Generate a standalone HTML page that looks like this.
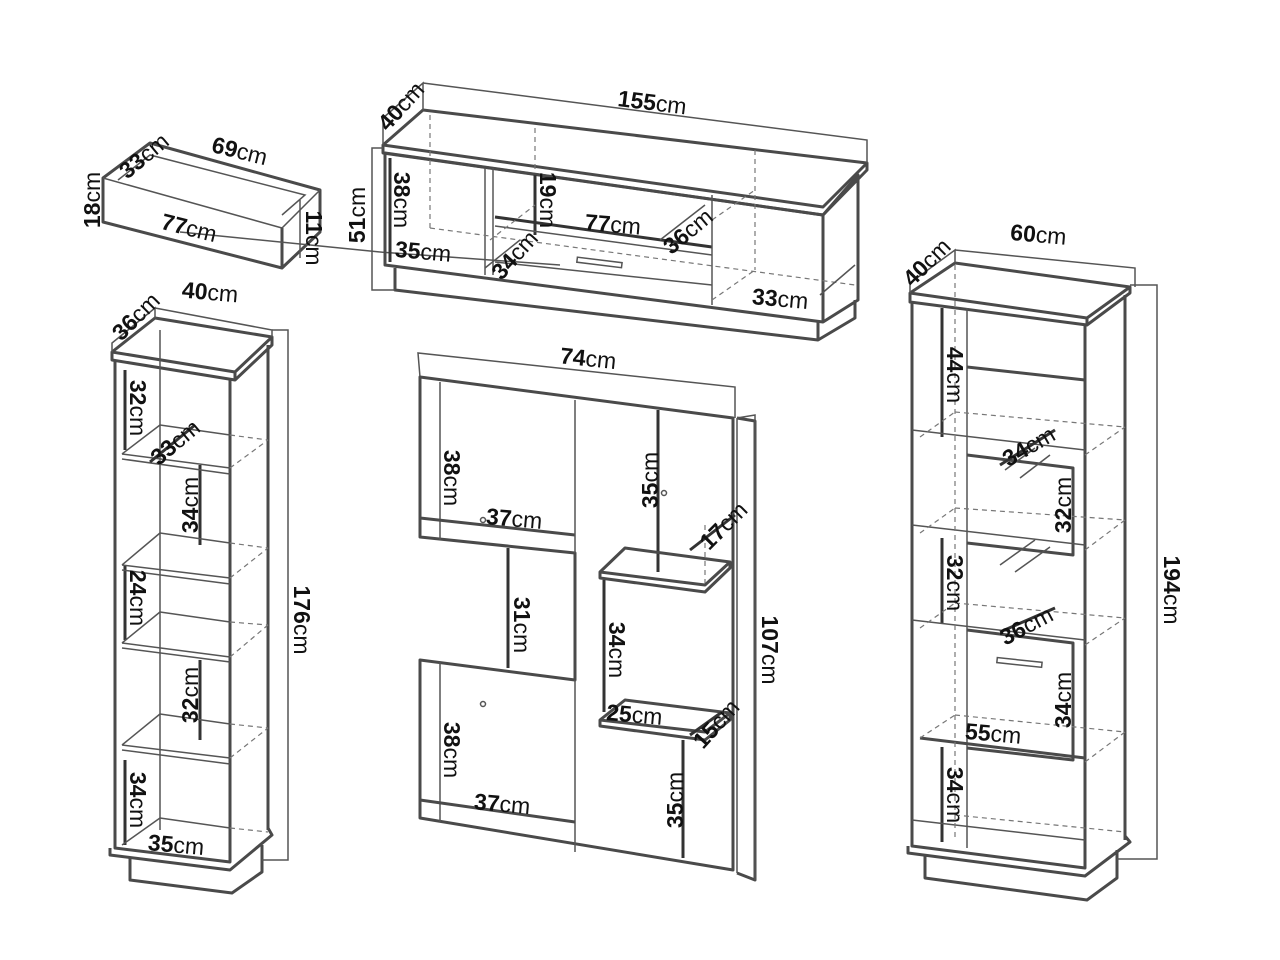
<!DOCTYPE html>
<html><head><meta charset="utf-8"><style>
html,body{margin:0;padding:0;background:#fff}
svg{display:block}
text{font-family:"Liberation Sans",sans-serif;font-size:23px;fill:#111}
.b{font-weight:bold}
.o{fill:none;stroke:#4a4a4a;stroke-width:3;stroke-linejoin:round}
.t{fill:none;stroke:#555;stroke-width:1.5}
.d{fill:none;stroke:#777;stroke-width:1.2;stroke-dasharray:5 4}
.k{fill:none;stroke:#333;stroke-width:3}
.m{fill:none;stroke:#555;stroke-width:1.5}
</style></head><body>
<svg width="1280" height="960" viewBox="0 0 1280 960" xmlns="http://www.w3.org/2000/svg">
<!-- ===== Drawer ===== -->
<polygon class="o" points="103,178 150,143 320,190 320,232 282,268 103,222"/>
<polyline class="t" points="103,178 282,228 320,190"/>
<line class="o" x1="282" y1="228" x2="282" y2="268"/>
<polyline class="t" points="118,180 150,155 305,195 282,215"/>
<line class="t" x1="300" y1="200" x2="300" y2="258"/>
<line class="m" x1="180" y1="232" x2="380" y2="252"/>
<line class="m" x1="380" y1="252" x2="560" y2="265"/>
<!-- ===== TV stand ===== -->
<polygon class="o" points="383,145 423,110 867,163 823,207"/>
<polyline class="o" points="383,145 383,153 823,215 867,170 867,163"/>
<polygon class="o" points="385,153 385,265 823,322 858,300 858,175 823,215"/>
<line class="o" x1="823" y1="215" x2="823" y2="322"/>
<polyline class="o" points="395,268 395,290 818,340 855,318 855,300"/>
<line class="o" x1="818" y1="322" x2="818" y2="340"/>
<line class="k" x1="390" y1="158" x2="390" y2="262"/>
<line class="t" x1="485" y1="168" x2="485" y2="275"/>
<line class="t" x1="493" y1="168" x2="493" y2="275"/>
<line class="k" x1="535" y1="175" x2="535" y2="235"/>
<polyline class="k" points="495,217 712,247"/>
<line class="t" x1="495" y1="226" x2="712" y2="255"/>
<line class="t" x1="712" y1="195" x2="712" y2="305"/>
<line class="t" x1="495" y1="262" x2="712" y2="285"/>
<rect x="577" y="260" width="45" height="5" class="t" transform="rotate(7 600 262)"/>
<line class="d" x1="430" y1="115" x2="430" y2="228"/>
<line class="d" x1="535" y1="128" x2="535" y2="170"/>
<line class="d" x1="755" y1="150" x2="755" y2="270"/>
<line class="d" x1="430" y1="228" x2="855" y2="285"/>
<line class="d" x1="490" y1="240" x2="535" y2="205"/>
<line class="d" x1="712" y1="220" x2="755" y2="190"/>
<line class="d" x1="712" y1="300" x2="755" y2="270"/>
<line class="m" x1="485" y1="268" x2="520" y2="240"/>
<line class="m" x1="660" y1="240" x2="705" y2="205"/>
<line class="m" x1="820" y1="295" x2="855" y2="265"/>
<polyline class="m" points="383,145 383,118 423,83 423,110"/>
<polyline class="m" points="423,83 867,140 867,163"/>
<polyline class="m" points="383,148 372,148 372,290 395,290"/>
<!-- ===== Left tall cabinet ===== -->
<polygon class="o" points="112,352 155,318 272,337 235,372"/>
<polyline class="o" points="112,352 112,360 235,380 272,345 272,337"/>
<line class="o" x1="235" y1="372" x2="235" y2="380"/>
<polyline class="o" points="115,360 115,848 230,862 230,380"/>
<line class="o" x1="268" y1="345" x2="268" y2="830"/>
<polyline class="o" points="110,848 110,855 230,870 272,835 268,828"/>
<polyline class="o" points="130,858 130,880 232,893 262,872 262,845"/>
<line class="k" x1="125" y1="370" x2="125" y2="450"/>
<line class="k" x1="200" y1="465" x2="200" y2="545"/>
<line class="k" x1="125" y1="565" x2="125" y2="640"/>
<line class="k" x1="200" y1="660" x2="200" y2="740"/>
<line class="k" x1="125" y1="760" x2="125" y2="845"/>
<g class="t">
<line x1="122" y1="454" x2="230" y2="468"/><line x1="122" y1="459" x2="230" y2="474"/>
<line x1="122" y1="565" x2="230" y2="578"/><line x1="122" y1="570" x2="230" y2="584"/>
<line x1="122" y1="643" x2="230" y2="657"/><line x1="122" y1="648" x2="230" y2="662"/>
<line x1="122" y1="745" x2="230" y2="758"/><line x1="122" y1="750" x2="230" y2="764"/>
<line x1="122" y1="454" x2="160" y2="425"/><line x1="122" y1="565" x2="160" y2="533"/>
<line x1="122" y1="643" x2="160" y2="612"/><line x1="122" y1="745" x2="160" y2="714"/>
<line x1="122" y1="845" x2="160" y2="818"/>
<line x1="160" y1="425" x2="230" y2="435"/><line x1="160" y1="533" x2="230" y2="543"/>
<line x1="160" y1="612" x2="230" y2="622"/><line x1="160" y1="714" x2="230" y2="724"/>
<line x1="160" y1="818" x2="230" y2="828"/>
<line x1="160" y1="330" x2="160" y2="830"/>
</g>
<g class="d">
<line x1="230" y1="435" x2="268" y2="440"/><line x1="230" y1="468" x2="268" y2="440"/>
<line x1="230" y1="543" x2="268" y2="548"/><line x1="230" y1="578" x2="268" y2="548"/>
<line x1="230" y1="622" x2="268" y2="625"/><line x1="230" y1="657" x2="268" y2="625"/>
<line x1="230" y1="724" x2="268" y2="728"/><line x1="230" y1="758" x2="268" y2="728"/>
<line x1="230" y1="828" x2="268" y2="832"/>
</g>
<polyline class="m" points="112,352 112,343 155,308 155,318"/>
<polyline class="m" points="155,308 272,330 272,337"/>
<polyline class="m" points="272,330 288,330 288,860 262,860"/>
<line class="k" x1="150" y1="462" x2="195" y2="425"/>
<!-- ===== Center wall panel ===== -->
<polyline class="m" points="420,377 418,353 735,387 735,418"/>
<polygon class="o" points="420,377 733,418 733,870 420,818 420,660 575,680 575,553 420,537"/>
<polyline class="o" points="737,418 755,421 755,880 737,873"/>
<line class="t" x1="737" y1="418" x2="737" y2="873"/>
<line class="t" x1="440" y1="382" x2="440" y2="540"/>
<line class="o" x1="420" y1="518" x2="575" y2="535"/>
<line class="t" x1="575" y1="400" x2="575" y2="553"/>
<line class="t" x1="575" y1="680" x2="575" y2="852"/>
<line class="k" x1="658" y1="410" x2="658" y2="572"/>
<line class="k" x1="508" y1="548" x2="508" y2="668"/>
<line class="t" x1="440" y1="662" x2="440" y2="822"/>
<line class="o" x1="420" y1="800" x2="575" y2="822"/>
<polygon class="o" points="600,572 625,548 730,562 705,585"/>
<polyline class="o" points="600,572 600,578 705,592 730,568 730,562"/>
<line class="k" x1="604" y1="580" x2="604" y2="712"/>
<polygon class="o" points="600,720 625,700 730,713 705,732"/>
<polyline class="o" points="600,720 600,726 705,740 730,720 730,713"/>
<line class="k" x1="683" y1="740" x2="683" y2="858"/>
<line class="d" x1="705" y1="525" x2="705" y2="583"/>
<line class="k" x1="690" y1="550" x2="735" y2="515"/>
<line class="k" x1="690" y1="735" x2="722" y2="712"/>
<circle cx="664" cy="493" r="2.5" class="t"/>
<circle cx="483" cy="704" r="2.5" class="t"/>
<circle cx="483" cy="520" r="2.5" class="t"/>
<polyline class="m" points="737,418 755,415 755,880"/>
<!-- ===== Right tall cabinet ===== -->
<polygon class="o" points="910,293 955,263 1130,287 1087,318"/>
<polyline class="o" points="910,293 910,302 1087,325 1130,293 1130,287"/>
<line class="o" x1="1087" y1="318" x2="1087" y2="325"/>
<polyline class="o" points="912,302 912,846 1085,868 1085,325"/>
<line class="o" x1="1125" y1="295" x2="1125" y2="840"/>
<polyline class="o" points="908,846 908,853 1085,876 1130,842 1125,836"/>
<polyline class="o" points="925,855 925,878 1087,900 1117,878 1117,850"/>
<line class="t" x1="967" y1="308" x2="967" y2="848"/>
<line class="o" x1="967" y1="367" x2="1085" y2="380"/>
<polyline class="o" points="967,455 1073,468 1073,555 967,543"/>
<polyline class="o" points="967,630 1073,643 1073,760 967,748"/>
<rect x="997" y="660" width="45" height="5" class="t" transform="rotate(6 1020 662)"/>
<line class="k" x1="942" y1="308" x2="942" y2="437"/>
<line class="k" x1="942" y1="538" x2="942" y2="624"/>
<line class="k" x1="942" y1="747" x2="942" y2="842"/>
<line class="o" x1="920" y1="738" x2="1085" y2="758"/>
<g class="t">
<line x1="1005" y1="470" x2="1035" y2="448"/><line x1="1020" y1="478" x2="1050" y2="455"/>
<line x1="1000" y1="565" x2="1035" y2="540"/><line x1="1015" y1="572" x2="1050" y2="547"/>
<line x1="912" y1="430" x2="1085" y2="450"/><line x1="912" y1="525" x2="1085" y2="545"/>
<line x1="912" y1="620" x2="1085" y2="640"/><line x1="912" y1="820" x2="1085" y2="840"/>
</g>
<g class="d">
<line x1="955" y1="265" x2="955" y2="840"/>
<line x1="920" y1="437" x2="955" y2="412"/><line x1="920" y1="533" x2="955" y2="508"/>
<line x1="920" y1="628" x2="955" y2="603"/><line x1="920" y1="738" x2="955" y2="715"/>
<line x1="1085" y1="455" x2="1125" y2="427"/><line x1="1085" y1="550" x2="1125" y2="520"/>
<line x1="1085" y1="645" x2="1125" y2="618"/><line x1="1085" y1="762" x2="1125" y2="732"/>
<line x1="955" y1="412" x2="1125" y2="427"/><line x1="955" y1="508" x2="1125" y2="520"/>
<line x1="955" y1="603" x2="1125" y2="618"/><line x1="955" y1="715" x2="1125" y2="732"/>
<line x1="955" y1="815" x2="1125" y2="832"/>
</g>
<line class="k" x1="1000" y1="465" x2="1055" y2="430"/>
<line class="k" x1="1000" y1="632" x2="1055" y2="608"/>
<polyline class="m" points="910,293 910,283 955,250 955,263"/>
<polyline class="m" points="955,250 1135,268 1135,287"/>
<polyline class="m" points="1130,285 1157,285 1157,859 1117,859"/>
<!-- ===== Labels ===== -->
<text x="618" y="110" transform="rotate(7 650 100)"><tspan class="b">155</tspan>cm</text>
<text x="370" y="118" transform="rotate(-48 395 105)"><tspan class="b">40</tspan>cm</text>
<text x="365" y="215" transform="rotate(-90 365 215)" text-anchor="middle"><tspan class="b">51</tspan>cm</text>
<text x="392" y="200" transform="rotate(90 392 200)" text-anchor="middle" dy="-2"><tspan class="b">38</tspan>cm</text>
<text x="538" y="200" transform="rotate(90 538 200)" text-anchor="middle" dy="-2"><tspan class="b">19</tspan>cm</text>
<text x="585" y="232" transform="rotate(5 610 222)"><tspan class="b">77</tspan>cm</text>
<text x="652" y="242" transform="rotate(-40 680 222)"><tspan class="b">36</tspan>cm</text>
<text x="395" y="260" transform="rotate(5 430 252)"><tspan class="b">35</tspan>cm</text>
<text x="478" y="272" transform="rotate(-48 500 250)"><tspan class="b">34</tspan>cm</text>
<text x="752" y="307" transform="rotate(5 785 300)"><tspan class="b">33</tspan>cm</text>
<text x="110" y="168" transform="rotate(-40 135 150)"><tspan class="b">33</tspan>cm</text>
<text x="212" y="160" transform="rotate(14 245 150)"><tspan class="b">69</tspan>cm</text>
<text x="102" y="200" transform="rotate(-90 102 200)" text-anchor="middle" dy="-2"><tspan class="b">18</tspan>cm</text>
<text x="160" y="236" transform="rotate(14 190 232)"><tspan class="b">77</tspan>cm</text>
<text x="298" y="238" transform="rotate(90 298 238)" text-anchor="middle" dy="-8"><tspan class="b">11</tspan>cm</text>
<text x="100" y="330" transform="rotate(-45 125 310)"><tspan class="b">36</tspan>cm</text>
<text x="182" y="300" transform="rotate(5 210 292)"><tspan class="b">40</tspan>cm</text>
<text x="128" y="408" transform="rotate(90 128 408)" text-anchor="middle" dy="-2"><tspan class="b">32</tspan>cm</text>
<text x="140" y="455" transform="rotate(-40 165 435)"><tspan class="b">33</tspan>cm</text>
<text x="190" y="505" transform="rotate(-90 190 505)" text-anchor="middle" dy="8"><tspan class="b">34</tspan>cm</text>
<text x="128" y="598" transform="rotate(90 128 598)" text-anchor="middle" dy="-2"><tspan class="b">24</tspan>cm</text>
<text x="190" y="695" transform="rotate(-90 190 695)" text-anchor="middle" dy="8"><tspan class="b">32</tspan>cm</text>
<text x="128" y="800" transform="rotate(90 128 800)" text-anchor="middle" dy="-2"><tspan class="b">34</tspan>cm</text>
<text x="148" y="853" transform="rotate(5 180 845)"><tspan class="b">35</tspan>cm</text>
<text x="292" y="620" transform="rotate(90 292 620)" text-anchor="middle" dy="-2"><tspan class="b">176</tspan>cm</text>
<text x="560" y="367" transform="rotate(6 595 360)"><tspan class="b">74</tspan>cm</text>
<text x="442" y="478" transform="rotate(90 442 478)" text-anchor="middle" dy="-2"><tspan class="b">38</tspan>cm</text>
<text x="486" y="527" transform="rotate(5 520 520)"><tspan class="b">37</tspan>cm</text>
<text x="650" y="480" transform="rotate(-90 650 480)" text-anchor="middle" dy="8"><tspan class="b">35</tspan>cm</text>
<text x="688" y="540" transform="rotate(-45 712 520)"><tspan class="b">17</tspan>cm</text>
<text x="512" y="625" transform="rotate(90 512 625)" text-anchor="middle" dy="-2"><tspan class="b">31</tspan>cm</text>
<text x="607" y="650" transform="rotate(90 607 650)" text-anchor="middle" dy="-2"><tspan class="b">34</tspan>cm</text>
<text x="606" y="723" transform="rotate(5 640 718)"><tspan class="b">25</tspan>cm</text>
<text x="680" y="738" transform="rotate(-48 705 718)"><tspan class="b">15</tspan>cm</text>
<text x="442" y="750" transform="rotate(90 442 750)" text-anchor="middle" dy="-2"><tspan class="b">38</tspan>cm</text>
<text x="474" y="812" transform="rotate(5 505 805)"><tspan class="b">37</tspan>cm</text>
<text x="675" y="800" transform="rotate(-90 675 800)" text-anchor="middle" dy="8"><tspan class="b">35</tspan>cm</text>
<text x="760" y="650" transform="rotate(90 760 650)" text-anchor="middle" dy="-2"><tspan class="b">107</tspan>cm</text>
<text x="893" y="275" transform="rotate(-45 918 258)"><tspan class="b">40</tspan>cm</text>
<text x="1010" y="243" transform="rotate(5 1045 238)"><tspan class="b">60</tspan>cm</text>
<text x="945" y="375" transform="rotate(90 945 375)" text-anchor="middle" dy="-2"><tspan class="b">44</tspan>cm</text>
<text x="995" y="452" transform="rotate(-30 1030 435)"><tspan class="b">34</tspan>cm</text>
<text x="1063" y="505" transform="rotate(-90 1063 505)" text-anchor="middle" dy="8"><tspan class="b">32</tspan>cm</text>
<text x="945" y="583" transform="rotate(90 945 583)" text-anchor="middle" dy="-2"><tspan class="b">32</tspan>cm</text>
<text x="993" y="633" transform="rotate(-28 1025 615)"><tspan class="b">36</tspan>cm</text>
<text x="1063" y="700" transform="rotate(-90 1063 700)" text-anchor="middle" dy="8"><tspan class="b">34</tspan>cm</text>
<text x="965" y="742" transform="rotate(5 1000 735)"><tspan class="b">55</tspan>cm</text>
<text x="945" y="795" transform="rotate(90 945 795)" text-anchor="middle" dy="-2"><tspan class="b">34</tspan>cm</text>
<text x="1162" y="590" transform="rotate(90 1162 590)" text-anchor="middle" dy="-2"><tspan class="b">194</tspan>cm</text>
</svg>
</body></html>
